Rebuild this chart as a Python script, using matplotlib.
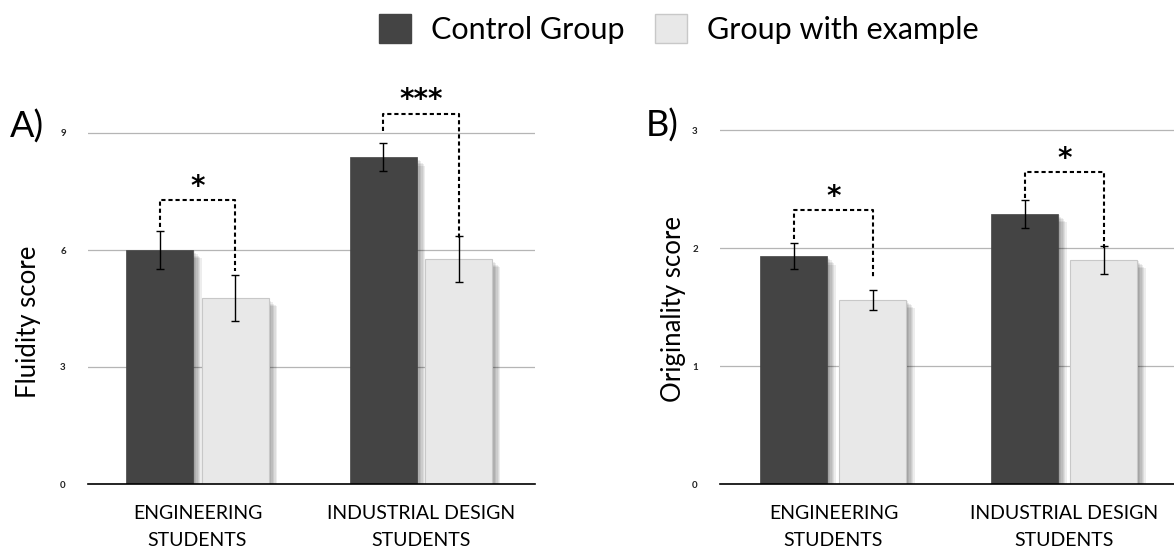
import matplotlib
matplotlib.use("Agg")
import matplotlib.pyplot as plt
import matplotlib.patheffects as pe
from matplotlib.patches import Patch
import numpy as np

plt.rcParams['font.family'] = ['Lato', 'DejaVu Sans']

categories = ["ENGINEERING\nSTUDENTS", "INDUSTRIAL DESIGN\nSTUDENTS"]
series_names = ["Control Group", "Group with example"]

fluidity_control = [6.0, 8.38]
fluidity_control_err = [0.48, 0.36]
fluidity_example = [4.77, 5.77]
fluidity_example_err = [0.6, 0.58]

orig_control = [1.93, 2.29]
orig_control_err = [0.11, 0.12]
orig_example = [1.56, 1.90]
orig_example_err = [0.085, 0.12]

fluidity_ticks = [0, 3, 6, 9]
orig_ticks = [0, 1, 2, 3]

# significance brackets: (y_bar, left_leg_bottom, right_leg_bottom, label)
fluidity_sig = [(7.28, 6.6, 5.45, "*"), (9.5, 9.05, 6.3, "***")]
orig_sig = [(2.32, 2.08, 1.75, "*"), (2.64, 2.42, 2.0, "*")]

dark = "#444444"
light = "#e8e8e8"

W, H = 1174, 552
fig = plt.figure(figsize=(W / 100, H / 100), dpi=100)

shadow = [pe.SimplePatchShadow(offset=(k, -k), shadow_rgbFace="#000000", alpha=0.07)
          for k in range(1, 7)] + [pe.Normal()]


def make_panel(rect, ctrl, ctrl_err, ex, ex_err, ticks, ymax, xlim, width, off,
               sig, ylabel, letter, letter_x, letter_y, ylabel_x, ylabel_y, px_per_unit):
    ax = fig.add_axes(rect)
    x = np.arange(len(categories))
    b1 = ax.bar(x - off, ctrl, width, color=dark, edgecolor=dark, linewidth=0.5, zorder=3)
    b2 = ax.bar(x + off, ex, width, color=light, edgecolor="#c8c8c8", linewidth=0.8, zorder=3)
    for b in list(b1) + list(b2):
        b.set_path_effects(shadow)
    ax.errorbar(x - off, ctrl, yerr=ctrl_err, fmt="none", ecolor="black", elinewidth=1,
                capsize=3, capthick=1, zorder=4)
    ax.errorbar(x + off, ex, yerr=ex_err, fmt="none", ecolor="black", elinewidth=1,
                capsize=3, capthick=1, zorder=4)
    for i, (yb, yl, yr, lab) in enumerate(sig):
        xl, xr = i - off, i + off
        ax.plot([xl, xl, xr, xr], [yl, yb, yb, yr], color="black", lw=1.5,
                linestyle=(0, (2, 1.4)), zorder=5, clip_on=False)
        ax.text(i, yb + 13.0 / px_per_unit, lab, ha="center", va="center", fontsize=20,
                fontweight="bold", family="DejaVu Sans", zorder=5)
    ax.set_ylim(0, ymax)
    ax.set_xlim(*xlim)
    ax.set_yticks(ticks)
    ax.set_yticklabels([str(t) for t in ticks], fontsize=7, color="#222222", fontweight="bold")
    ax.tick_params(axis="y", length=0, pad=16)
    ax.set_xticks(x)
    ax.set_xticklabels(categories, fontsize=14, linespacing=1.7)
    ax.tick_params(axis="x", length=0, pad=15)
    ax.grid(axis="y", color="#b5b5b5", lw=0.9, zorder=0)
    ax.set_axisbelow(True)
    for s in ["top", "right", "left"]:
        ax.spines[s].set_visible(False)
    ax.spines["bottom"].set_color("black")
    ax.spines["bottom"].set_linewidth(1.2)
    ax.spines["bottom"].set_zorder(6)
    fig.text(ylabel_x / W, 1 - ylabel_y / H, ylabel, rotation=90, ha="center", va="center",
             fontsize=18.5)
    fig.text(letter_x / W, 1 - letter_y / H, letter, ha="left", va="center", fontsize=26)
    return ax


axA = make_panel([88 / W, 1 - 484 / H, (535 - 88) / W, 390 / H],
                 fluidity_control, fluidity_control_err, fluidity_example, fluidity_example_err,
                 fluidity_ticks, 390 / 39.0, (-0.49, 1.51), 0.30, 0.168,
                 fluidity_sig, "Fluidity score", "A)", 10, 127, 29, 322, 39.0)

axB = make_panel([720 / W, 1 - 484 / H, (1174 - 720) / W, 390 / H],
                 orig_control, orig_control_err, orig_example, orig_example_err,
                 orig_ticks, 390 / 118.0, (-0.491, 1.474), 0.29, 0.171,
                 orig_sig, "Originality score", "B)", 646, 126, 674, 309, 118.0)

handles = [Patch(facecolor=dark, edgecolor=dark), Patch(facecolor=light, edgecolor="#c8c8c8")]
fig.legend(handles, series_names, loc="center", bbox_to_anchor=(679 / W, 1 - 29 / H), ncol=2,
           frameon=False, fontsize=22, handlelength=1.05, handleheight=1.05, handletextpad=0.65,
           columnspacing=1.0)

fig.savefig("out.png", dpi=100)
